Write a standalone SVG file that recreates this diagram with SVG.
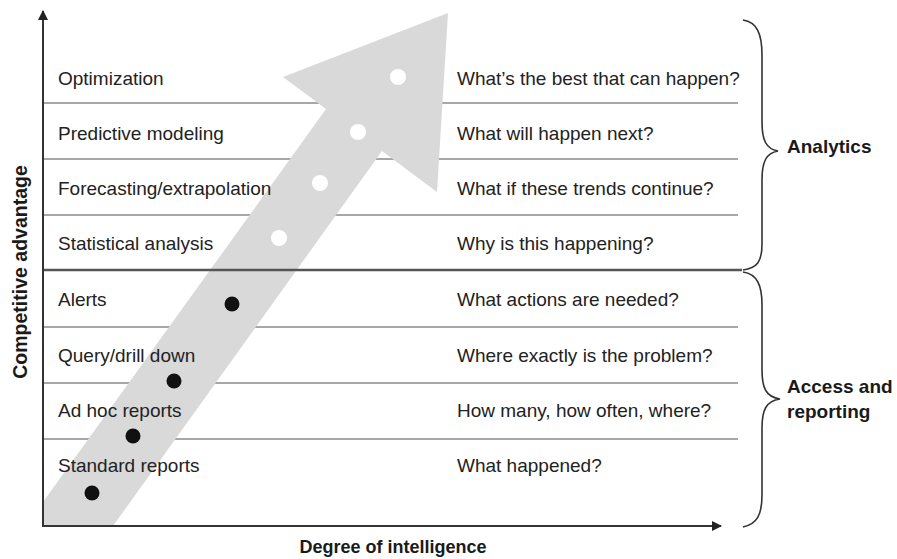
<svg xmlns="http://www.w3.org/2000/svg" width="897" height="559" viewBox="0 0 897 559">
  <style>
    .row { font-family: "Liberation Sans", Arial, sans-serif; font-size: 19px; fill: #222; }
    .bold { font-family: "Liberation Sans", Arial, sans-serif; font-size: 18px; font-weight: bold; fill: #1a1a1a; }
    .side { font-size: 19px; }
    .grid { stroke: #8a8a8a; stroke-width: 1.5; fill: none; }
    .axis { stroke: #333; stroke-width: 2; fill: none; }
    .brace { stroke: #333; stroke-width: 1.6; fill: none; }
    .wdot { fill: #ffffff; }
    .bdot { fill: #111111; }
  </style>
  <defs>
    <marker id="ah" viewBox="0 0 10 10" refX="9" refY="5" markerWidth="5" markerHeight="5" orient="auto" markerUnits="strokeWidth">
      <path d="M0,0 L10,5 L0,10 Z" fill="#222"/>
    </marker>
  </defs>
  <rect width="897" height="559" fill="#ffffff"/>

  <g id="grid-lines">
    <line class="grid" x1="43" y1="103" x2="738" y2="103"/>
    <line class="grid" x1="43" y1="159" x2="738" y2="159"/>
    <line class="grid" x1="43" y1="215" x2="738" y2="215"/>
    <line class="grid" x1="43" y1="327" x2="738" y2="327"/>
    <line class="grid" x1="43" y1="383" x2="738" y2="383"/>
    <line class="grid" x1="43" y1="439" x2="738" y2="439"/>
  </g>

  <g id="big-arrow">
    <polygon points="43,526 43,502 326,109 283,77 448,13 437,192 382,151 113,526" fill="#d9d9d9"/>
  </g>

  <g id="divider">
    <line x1="43" y1="270" x2="742" y2="270" stroke="#555" stroke-width="2.5"/>
  </g>

  <g id="connectors">
    <line class="axis" x1="43" y1="527" x2="43" y2="11" marker-end="url(#ah)"/>
    <line class="axis" x1="42" y1="526" x2="721" y2="526" marker-end="url(#ah)"/>
  </g>

  <g id="dots">
    <circle class="wdot" cx="398" cy="77" r="8"/>
    <circle class="wdot" cx="358" cy="132" r="8"/>
    <circle class="wdot" cx="320" cy="183" r="8"/>
    <circle class="wdot" cx="279" cy="238" r="8"/>
    <circle class="bdot" cx="232" cy="304" r="7.5"/>
    <circle class="bdot" cx="174" cy="381" r="7.5"/>
    <circle class="bdot" cx="133" cy="436" r="7.5"/>
    <circle class="bdot" cx="92" cy="493" r="7.5"/>
  </g>

  <g id="row-optimization"><text class="row" x="58" y="85">Optimization</text><text class="row" x="457" y="85">What’s the best that can happen?</text></g>
  <g id="row-predictive"><text class="row" x="58" y="140">Predictive modeling</text><text class="row" x="457" y="140">What will happen next?</text></g>
  <g id="row-forecasting"><text class="row" x="58" y="195">Forecasting/extrapolation</text><text class="row" x="457" y="195">What if these trends continue?</text></g>
  <g id="row-statistical"><text class="row" x="58" y="250">Statistical analysis</text><text class="row" x="457" y="250">Why is this happening?</text></g>
  <g id="row-alerts"><text class="row" x="58" y="306">Alerts</text><text class="row" x="457" y="306">What actions are needed?</text></g>
  <g id="row-query"><text class="row" x="58" y="362">Query/drill down</text><text class="row" x="457" y="362">Where exactly is the problem?</text></g>
  <g id="row-adhoc"><text class="row" x="58" y="417">Ad hoc reports</text><text class="row" x="457" y="417">How many, how often, where?</text></g>
  <g id="row-standard"><text class="row" x="58" y="472">Standard reports</text><text class="row" x="457" y="472">What happened?</text></g>

  <g id="analytics-group">
    <path class="brace" d="M743,20 C757,22 762,34 762,55 L762,122 C762,140 766,149 778,151 C766,153 762,162 762,180 L762,244 C762,262 757,268 743,270"/>
    <text class="bold side" x="787" y="153">Analytics</text>
  </g>
  <g id="access-group">
    <path class="brace" d="M743,272 C757,274 762,285 762,305 L762,370 C762,388 766,397 780,399 C766,401 762,410 762,428 L762,495 C762,515 757,524 743,527"/>
    <text class="bold side" x="787" y="393">Access and</text>
    <text class="bold side" x="787" y="418">reporting</text>
  </g>

  <g id="axis-labels">
    <text class="bold" x="393" y="553" text-anchor="middle">Degree of intelligence</text>
    <text class="bold" transform="translate(27,272) rotate(-90)" text-anchor="middle" style="font-size:19.5px">Competitive advantage</text>
  </g>
</svg>
